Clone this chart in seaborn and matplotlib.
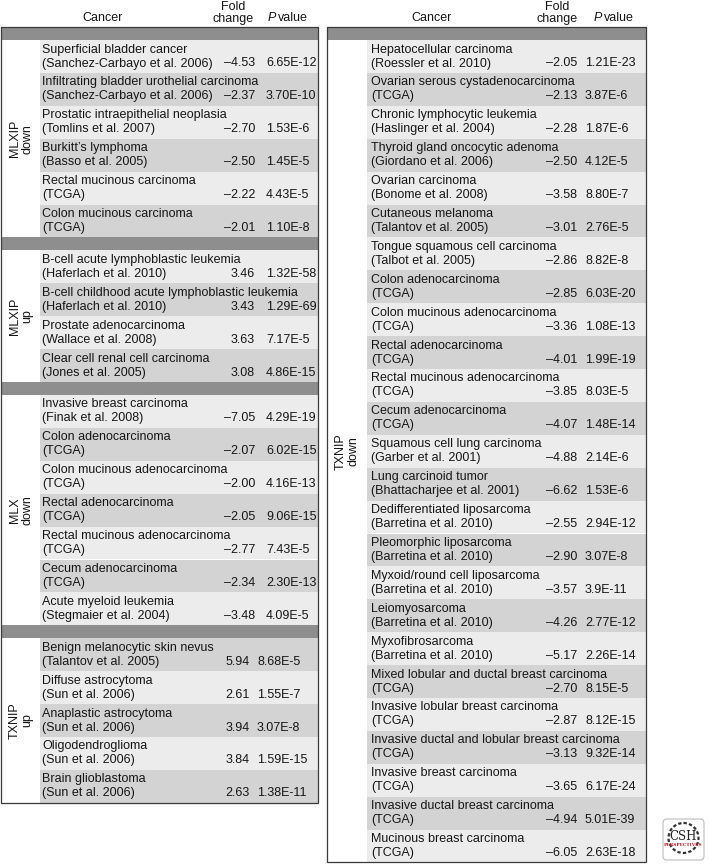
import matplotlib
matplotlib.use("Agg")
import matplotlib.pyplot as plt
from matplotlib.patches import Rectangle, FancyBboxPatch
import seaborn as sns

# ---------------- data ----------------
mlxip_down_names = ["Superficial bladder cancer", "Infiltrating bladder urothelial carcinoma",
                    "Prostatic intraepithelial neoplasia", "Burkitt\u2019s lymphoma",
                    "Rectal mucinous carcinoma", "Colon mucinous carcinoma"]
mlxip_down_refs = ["(Sanchez-Carbayo et al. 2006)", "(Sanchez-Carbayo et al. 2006)",
                   "(Tomlins et al. 2007)", "(Basso et al. 2005)", "(TCGA)", "(TCGA)"]
mlxip_down_fold = [-4.53, -2.37, -2.70, -2.50, -2.22, -2.01]
mlxip_down_p = ["6.65E-12", "3.70E-10", "1.53E-6", "1.45E-5", "4.43E-5", "1.10E-8"]

mlxip_up_names = ["B-cell acute lymphoblastic leukemia", "B-cell childhood acute lymphoblastic leukemia",
                  "Prostate adenocarcinoma", "Clear cell renal cell carcinoma"]
mlxip_up_refs = ["(Haferlach et al. 2010)", "(Haferlach et al. 2010)",
                 "(Wallace et al. 2008)", "(Jones et al. 2005)"]
mlxip_up_fold = [3.46, 3.43, 3.63, 3.08]
mlxip_up_p = ["1.32E-58", "1.29E-69", "7.17E-5", "4.86E-15"]

mlx_down_names = ["Invasive breast carcinoma", "Colon adenocarcinoma", "Colon mucinous adenocarcinoma",
                  "Rectal adenocarcinoma", "Rectal mucinous adenocarcinoma", "Cecum adenocarcinoma",
                  "Acute myeloid leukemia"]
mlx_down_refs = ["(Finak et al. 2008)", "(TCGA)", "(TCGA)", "(TCGA)", "(TCGA)", "(TCGA)",
                 "(Stegmaier et al. 2004)"]
mlx_down_fold = [-7.05, -2.07, -2.00, -2.05, -2.77, -2.34, -3.48]
mlx_down_p = ["4.29E-19", "6.02E-15", "4.16E-13", "9.06E-15", "7.43E-5", "2.30E-13", "4.09E-5"]

txnip_up_names = ["Benign melanocytic skin nevus", "Diffuse astrocytoma", "Anaplastic astrocytoma",
                  "Oligodendroglioma", "Brain glioblastoma"]
txnip_up_refs = ["(Talantov et al. 2005)", "(Sun et al. 2006)", "(Sun et al. 2006)",
                 "(Sun et al. 2006)", "(Sun et al. 2006)"]
txnip_up_fold = [5.94, 2.61, 3.94, 3.84, 2.63]
txnip_up_p = ["8.68E-5", "1.55E-7", "3.07E-8", "1.59E-15", "1.38E-11"]

txnip_down_names = ["Hepatocellular carcinoma", "Ovarian serous cystadenocarcinoma",
                    "Chronic lymphocytic leukemia", "Thyroid gland oncocytic adenoma",
                    "Ovarian carcinoma", "Cutaneous melanoma", "Tongue squamous cell carcinoma",
                    "Colon adenocarcinoma", "Colon mucinous adenocarcinoma", "Rectal adenocarcinoma",
                    "Rectal mucinous adenocarcinoma", "Cecum adenocarcinoma",
                    "Squamous cell lung carcinoma", "Lung carcinoid tumor",
                    "Dedifferentiated liposarcoma", "Pleomorphic liposarcoma",
                    "Myxoid/round cell liposarcoma", "Leiomyosarcoma", "Myxofibrosarcoma",
                    "Mixed lobular and ductal breast carcinoma", "Invasive lobular breast carcinoma",
                    "Invasive ductal and lobular breast carcinoma", "Invasive breast carcinoma",
                    "Invasive ductal breast carcinoma", "Mucinous breast carcinoma"]
txnip_down_refs = ["(Roessler et al. 2010)", "(TCGA)", "(Haslinger et al. 2004)",
                   "(Giordano et al. 2006)", "(Bonome et al. 2008)", "(Talantov et al. 2005)",
                   "(Talbot et al. 2005)", "(TCGA)", "(TCGA)", "(TCGA)", "(TCGA)", "(TCGA)",
                   "(Garber et al. 2001)", "(Bhattacharjee et al. 2001)",
                   "(Barretina et al. 2010)", "(Barretina et al. 2010)", "(Barretina et al. 2010)",
                   "(Barretina et al. 2010)", "(Barretina et al. 2010)",
                   "(TCGA)", "(TCGA)", "(TCGA)", "(TCGA)", "(TCGA)", "(TCGA)"]
txnip_down_fold = [-2.05, -2.13, -2.28, -2.50, -3.58, -3.01, -2.86, -2.85, -3.36, -4.01, -3.85,
                   -4.07, -4.88, -6.62, -2.55, -2.90, -3.57, -4.26, -5.17, -2.70, -2.87, -3.13,
                   -3.65, -4.94, -6.05]
txnip_down_p = ["1.21E-23", "3.87E-6", "1.87E-6", "4.12E-5", "8.80E-7", "2.76E-5", "8.82E-8",
                "6.03E-20", "1.08E-13", "1.99E-19", "8.03E-5", "1.48E-14", "2.14E-6", "1.53E-6",
                "2.94E-12", "3.07E-8", "3.9E-11", "2.77E-12", "2.26E-14", "8.15E-5", "8.12E-15",
                "9.32E-14", "6.17E-24", "5.01E-39", "2.63E-18"]

group_labels_left = ["MLXIP\ndown", "MLXIP\nup", "MLX\ndown", "TXNIP\nup"]
group_labels_right = ["TXNIP\ndown"]
header_labels = ["Cancer", "Fold\nchange", "value"]

# ---------------- style ----------------
sns.set_theme(style="white")
plt.rcParams["font.family"] = ["Liberation Sans", "DejaVu Sans"]

W, H = 709, 865
fig = plt.figure(figsize=(W / 100, H / 100), dpi=100)
ax = fig.add_axes([0, 0, 1, 1])
ax.set_xlim(0, W)
ax.set_ylim(H, 0)
ax.axis("off")

TXT = "#161616"
LIGHT = "#ececec"
DARK = "#d3d3d3"
BAND = "#8e8e8e"
EDGE = "#3a3a3a"
FS = 9
ROW_H = 32.9
BAND_H = 13
TOP = 27


def fmt_fold(v):
    return f"{v:.2f}".replace("-", "\u2013")


def draw_table(sections, x0, x1, bg_x, text_x, label_x, hdr):
    y = TOP
    shade = 0
    for label, names, refs, folds, ps, fr, pl in sections:
        ax.barh(y + BAND_H / 2, x1 - x0, left=x0, height=BAND_H, color=BAND, linewidth=0)
        y += BAND_H
        ystart = y
        for n, r, f, p in zip(names, refs, folds, ps):
            col = LIGHT if shade % 2 == 0 else DARK
            ax.barh(y + ROW_H / 2, x1 - bg_x, left=bg_x, height=ROW_H, color=col, linewidth=0)
            ax.text(text_x, y + 9.5, n, fontsize=FS, color=TXT, va="center", ha="left")
            ax.text(text_x, y + 23.5, r, fontsize=FS, color=TXT, va="center", ha="left")
            ax.text(fr, y + 23.5, fmt_fold(f), fontsize=FS, color=TXT, va="center", ha="right")
            ax.text(pl, y + 23.5, p, fontsize=FS, color=TXT, va="center", ha="left")
            y += ROW_H
            shade += 1
        ax.text(label_x, (ystart + y) / 2, label, rotation=90, fontsize=FS, color=TXT,
                ha="center", va="center", multialignment="center", linespacing=1.05)
    ax.add_patch(Rectangle((x0, TOP), x1 - x0, y - TOP, fill=False, edgecolor=EDGE, linewidth=0.9))
    # header
    cx, fx, px = hdr
    ax.text(cx, 18, header_labels[0], fontsize=FS, color=TXT, ha="center", va="center")
    ax.text(fx, 13, header_labels[1], fontsize=FS, color=TXT, ha="center", va="center",
            linespacing=0.95)
    ax.text(px, 18, "P", fontsize=FS, color=TXT, ha="left", va="center", style="italic")
    ax.text(px + 9.5, 18, header_labels[2], fontsize=FS, color=TXT, ha="left", va="center")


left_sections = [
    (group_labels_left[0], mlxip_down_names, mlxip_down_refs, mlxip_down_fold, mlxip_down_p, 255, 266),
    (group_labels_left[1], mlxip_up_names, mlxip_up_refs, mlxip_up_fold, mlxip_up_p, 255, 266),
    (group_labels_left[2], mlx_down_names, mlx_down_refs, mlx_down_fold, mlx_down_p, 255, 266),
    (group_labels_left[3], txnip_up_names, txnip_up_refs, txnip_up_fold, txnip_up_p, 250, 257),
]
draw_table(left_sections, 0.8, 318, 40, 42, 21, (103, 233, 268))

right_sections = [
    (group_labels_right[0], txnip_down_names, txnip_down_refs, txnip_down_fold, txnip_down_p, 577, 585),
]
draw_table(right_sections, 327, 646, 367, 371, 347, (432, 557, 594))

# CSH Perspectives logo
ax.add_patch(FancyBboxPatch((663, 819), 41, 41, boxstyle="round,pad=0,rounding_size=4",
                            facecolor="white", edgecolor="#bdbdbd", linewidth=0.8))
ax.add_patch(plt.Circle((683.5, 838), 15, fill=False, edgecolor="#333333", linewidth=1.6,
                        linestyle=(0, (1.5, 1))))
ax.text(683.5, 836, "CSH", fontsize=8.5, family="DejaVu Serif", color="#222222",
        ha="center", va="center")
ax.text(683.5, 845.5, "PERSPECTIVES", fontsize=3.2, family="DejaVu Serif", color="#b0202a",
        ha="center", va="center", weight="bold")

fig.savefig("out.png", dpi=100)
